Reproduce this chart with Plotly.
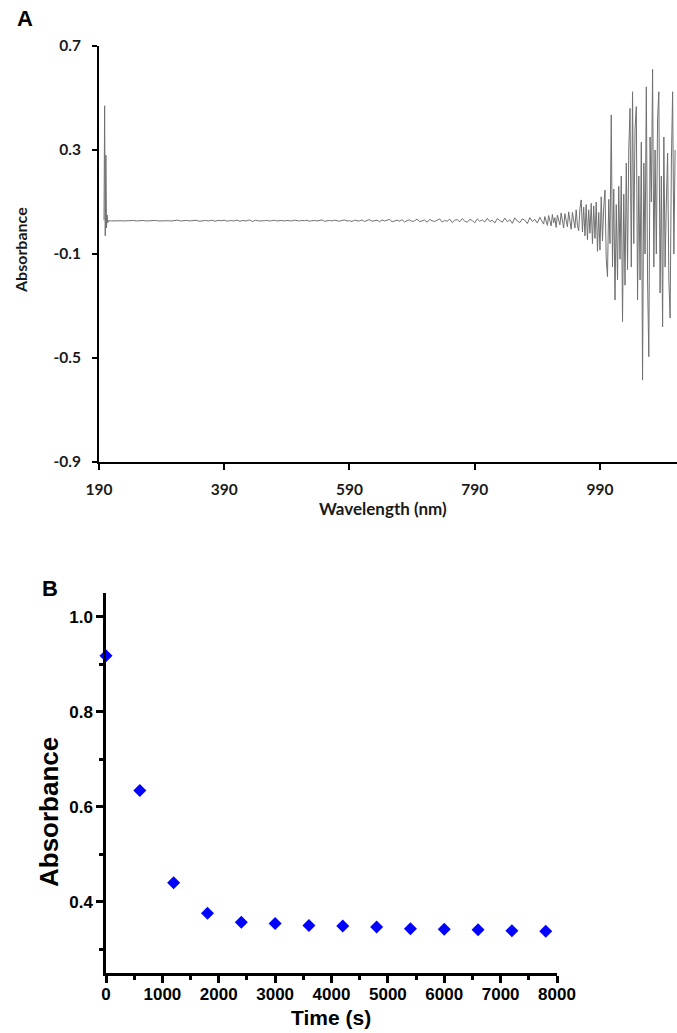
import plotly.graph_objects as go

W, H = 677, 1033

# ---------------- Panel A data (UV-Vis spectrum) ----------------
wl_start = [198, 199, 200, 201, 202, 203, 204]
abs_start = [0.030, 0.470, -0.030, 0.280, 0.000, 0.050, 0.020]

wl_flat = list(range(205, 451, 5))
abs_flat = [
    0.028, 0.027, 0.028, 0.029, 0.028, 0.027, 0.028, 0.028, 0.029, 0.027,
    0.028, 0.029, 0.027, 0.028, 0.028, 0.029, 0.027, 0.028, 0.029, 0.028,
    0.027, 0.028, 0.030, 0.027, 0.028, 0.029, 0.027, 0.028, 0.030, 0.026,
    0.028, 0.029, 0.027, 0.030, 0.026, 0.029, 0.028, 0.030, 0.026, 0.029,
    0.027, 0.030, 0.026, 0.029, 0.027, 0.031, 0.025, 0.030, 0.027, 0.029,
]

wl_mid = list(range(454, 899, 4))
abs_mid = [
    0.028, 0.029, 0.027, 0.028, 0.030, 0.027, 0.028, 0.029, 0.027, 0.029,
    0.028, 0.027, 0.030, 0.028, 0.027, 0.029, 0.028, 0.030, 0.026, 0.028,
    0.029, 0.027, 0.028, 0.031, 0.026, 0.028, 0.029, 0.027, 0.030, 0.028,
    0.026, 0.029, 0.031, 0.027, 0.028, 0.025, 0.030, 0.028, 0.027, 0.031,
    0.025, 0.029, 0.032, 0.026, 0.028, 0.030, 0.024, 0.031, 0.027, 0.029,
    0.033, 0.024, 0.028, 0.030, 0.026, 0.032, 0.023, 0.029, 0.031, 0.025,
    0.028, 0.034, 0.024, 0.027, 0.031, 0.022, 0.033, 0.028, 0.025, 0.030,
    0.035, 0.023, 0.029, 0.026, 0.034, 0.021, 0.030, 0.032, 0.024, 0.036,
    0.027, 0.022, 0.033, 0.029, 0.020, 0.035, 0.026, 0.031, 0.023, 0.037,
    0.025, 0.030, 0.019, 0.036, 0.028, 0.022, 0.038, 0.024, 0.032, 0.018,
    0.039, 0.027, 0.021, 0.035, 0.030, 0.017, 0.040, 0.025, 0.033, 0.019,
    0.041, 0.024,
]

wl_noise = list(range(900, 1111, 2))
abs_noise = [
    0.015, 0.044, 0.022, 0.010, 0.048, 0.030, 0.008, 0.052, 0.020, 0.040,
    0.002, 0.050, 0.028, 0.012, 0.058, 0.018, 0.000, 0.055, 0.035, 0.005,
    0.062, 0.020, -0.005, 0.060, 0.030, 0.000, 0.070, 0.010, -0.010, 0.075,
    0.108, -0.015, 0.080, -0.030, 0.090, -0.045, 0.070, -0.020, 0.095, -0.060,
    0.085, -0.040, 0.100, -0.090, 0.060, -0.085, 0.120, -0.050, 0.080, 0.146,
    -0.120, -0.187, 0.110, -0.060, 0.435, -0.150, 0.150, -0.277, 0.090, -0.200,
    0.160, -0.120, 0.200, -0.360, 0.130, -0.220, 0.250, -0.160, 0.300, 0.460,
    -0.150, 0.524, -0.060, 0.380, 0.467, -0.277, 0.200, -0.200, 0.330, -0.585,
    0.250, -0.100, 0.543, -0.200, -0.495, 0.350, 0.100, 0.610, -0.150, 0.300,
    -0.100, 0.420, 0.524, -0.250, 0.200, -0.380, 0.350, -0.150, 0.100, 0.288,
    -0.200, -0.346, 0.250, 0.524, -0.100, 0.300,
]

wavelength = wl_start + wl_flat + wl_mid + wl_noise
absorbance_a = abs_start + abs_flat + abs_mid + abs_noise

a_yticks = [0.7, 0.3, -0.1, -0.5, -0.9]
a_xticks = [190, 390, 590, 790, 990]

# ---------------- Panel B data (kinetics) ----------------
time_s = [0, 600, 1200, 1800, 2400, 3000, 3600, 4200, 4800, 5400, 6000, 6600, 7200, 7800]
absorbance_b = [0.918, 0.634, 0.440, 0.376, 0.357, 0.354, 0.350, 0.349, 0.347,
                0.343, 0.342, 0.341, 0.339, 0.338]
b_xticks = [0, 1000, 2000, 3000, 4000, 5000, 6000, 7000, 8000]
b_yticks = [0.4, 0.6, 0.8, 1.0]


def px(x):
    return x / W


def py(y):
    return 1 - y / H


fig = go.Figure()

fig.add_trace(go.Scatter(
    x=wavelength, y=absorbance_a, mode="lines",
    line=dict(color="#707070", width=1),
    xaxis="x", yaxis="y", showlegend=False, hoverinfo="skip",
))

fig.add_trace(go.Scatter(
    x=time_s, y=absorbance_b, mode="markers",
    marker=dict(symbol="diamond", size=10, color="#0000ff", line=dict(width=0)),
    xaxis="x2", yaxis="y2", showlegend=False, cliponaxis=False,
))

fontA = "Lato, 'Open Sans', sans-serif"
fontB = "'Liberation Sans', Arial, sans-serif"

fig.update_layout(
    width=W, height=H,
    margin=dict(l=0, r=0, t=0, b=0),
    paper_bgcolor="white", plot_bgcolor="white",
    xaxis=dict(
        domain=[px(99), 1.0], range=[190, 1113], anchor="y",
        tickmode="array", tickvals=a_xticks, ticktext=[str(v) for v in a_xticks],
        showline=True, linecolor="black", linewidth=2, mirror=False,
        ticks="outside", ticklen=6, tickwidth=2, tickcolor="black",
        showgrid=False, zeroline=False, automargin=False,
        tickfont=dict(family=fontA, size=15.5, color="#1a1a1a", weight="bold"),
        ticklabelstandoff=6,
    ),
    yaxis=dict(
        domain=[py(462), py(46)], range=[-0.9, 0.7], anchor="x",
        tickmode="array", tickvals=a_yticks, ticktext=[f"{v:.1f}" for v in a_yticks],
        showline=True, linecolor="black", linewidth=2,
        ticks="outside", ticklen=5, tickwidth=2, tickcolor="black",
        showgrid=False, zeroline=False, automargin=False,
        tickfont=dict(family=fontA, size=15.5, color="#1a1a1a", weight="bold"),
        ticklabelstandoff=8,
    ),
    xaxis2=dict(
        domain=[px(106), px(557)], range=[0, 8000], anchor="y2",
        tickmode="array", tickvals=b_xticks, ticktext=[str(v) for v in b_xticks],
        showline=True, linecolor="black", linewidth=2.5,
        ticks="outside", ticklen=7, tickwidth=2.5, tickcolor="black",
        minor=dict(dtick=500, tick0=0, ticks="outside", ticklen=4, tickwidth=2.5, tickcolor="black", showgrid=False),
        showgrid=False, zeroline=False, automargin=False,
        tickfont=dict(family=fontB, size=17, color="black", weight="bold"),
        ticklabelstandoff=-3,
    ),
    yaxis2=dict(
        domain=[py(973), py(593)], range=[0.25, 1.05], anchor="x2",
        tickmode="array", tickvals=b_yticks, ticktext=[f"{v:.1f}" for v in b_yticks],
        showline=True, linecolor="black", linewidth=2.5,
        ticks="outside", ticklen=7, tickwidth=2.5, tickcolor="black",
        minor=dict(dtick=0.1, tick0=0.3, ticks="outside", ticklen=4, tickwidth=2.5, tickcolor="black", showgrid=False),
        showgrid=False, zeroline=False, automargin=False,
        tickfont=dict(family=fontB, size=17, color="black", weight="bold"),
    ),
    annotations=[
        dict(text="<b>A</b>", x=px(15), y=py(18), xref="paper", yref="paper",
             xanchor="left", yanchor="middle", showarrow=False,
             font=dict(family=fontB, size=22, color="black")),
        dict(text="<b>Absorbance</b>", x=px(20), y=py(250), xref="paper", yref="paper",
             xanchor="center", yanchor="middle", showarrow=False, textangle=-90,
             font=dict(family=fontA, size=16, color="#1a1a1a")),
        dict(text="<b>Wavelength (nm)</b>", x=px(383), y=py(508), xref="paper", yref="paper",
             xanchor="center", yanchor="middle", showarrow=False,
             font=dict(family=fontA, size=17, color="#1a1a1a")),
        dict(text="<b>B</b>", x=px(40), y=py(588), xref="paper", yref="paper",
             xanchor="left", yanchor="middle", showarrow=False,
             font=dict(family=fontB, size=22, color="black")),
        dict(text="<b>Absorbance</b>", x=px(49), y=py(812), xref="paper", yref="paper",
             xanchor="center", yanchor="middle", showarrow=False, textangle=-90,
             font=dict(family=fontB, size=26, color="black")),
        dict(text="<b>Time (s)</b>", x=px(331), y=py(1017), xref="paper", yref="paper",
             xanchor="center", yanchor="middle", showarrow=False,
             font=dict(family=fontB, size=21, color="black")),
    ],
)

fig.write_html(
    "out.html",
    config={"displayModeBar": False},
    post_script="document.body.style.margin='0px';document.body.style.padding='0px';"
                "document.documentElement.style.overflow='hidden';",
)
